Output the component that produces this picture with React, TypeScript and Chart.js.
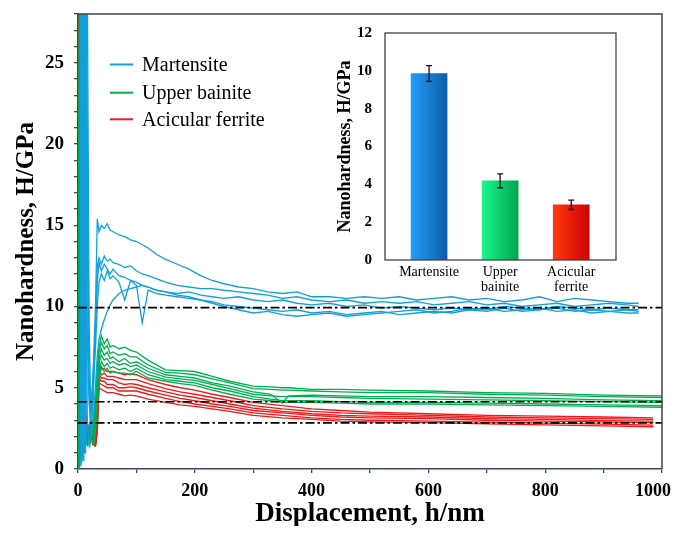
import React, { useEffect, useRef } from 'react';
import { Chart, registerables } from 'chart.js';
Chart.register(...registerables);

const FONT = "'Liberation Serif', 'Times New Roman', Times, serif";

// ---------- main chart data ----------
const xMart = [4, 5, 6, 7, 8, 9, 10, 11, 12, 13, 14, 16, 19, 22, 26, 30, 33, 36, 40, 45, 50, 55, 60, 70, 80, 90, 100, 110, 120, 135, 150, 170, 190, 210, 230, 250, 275, 300, 325, 350, 375, 400, 430, 460, 490, 520, 550, 580, 610, 640, 670, 700, 730, 760, 790, 820, 850, 880, 910, 940, 960];
const mart1 = [0.5, 30, 2, 30, 1, 30, 3, 30, 2, 30, 22, 8, 4, 3, 6, 10, 15.4, 14.6, 15.0, 14.8, 15.1, 14.7, 14.6, 14.4, 14.3, 14.1, 14.0, 13.8, 13.6, 13.2, 12.9, 12.6, 12.3, 11.9, 11.6, 11.4, 11.2, 11.1, 10.9, 10.8, 10.9, 10.6, 10.6, 10.5, 10.6, 10.5, 10.6, 10.4, 10.5, 10.6, 10.4, 10.5, 10.3, 10.4, 10.6, 10.3, 10.5, 10.4, 10.3, 10.2, 10.2];
const mart2 = [0.3, 1, 30, 2, 30, 1, 30, 4, 30, 30, 30, 14, 5, 2.5, 4, 9, 12.5, 13.0, 12.6, 13.1, 12.8, 12.9, 12.7, 12.6, 12.4, 12.5, 12.2, 12.0, 11.9, 11.7, 11.5, 11.3, 11.2, 11.1, 11.1, 11.0, 10.9, 10.8, 10.7, 10.5, 10.6, 10.4, 10.3, 10.4, 10.2, 10.3, 10.2, 10.3, 10.1, 10.2, 10.3, 10.1, 10.2, 10.0, 10.1, 10.2, 10.0, 10.1, 10.2, 10.1, 10.0];
const mart3 = [0.6, 30, 1.5, 30, 0.5, 30, 2, 30, 1, 30, 30, 30, 9, 3.5, 6, 8.5, 11.5, 12.7, 12.2, 12.6, 12.3, 12.0, 12.3, 11.9, 11.8, 11.6, 11.5, 11.3, 11.2, 11.0, 10.9, 10.8, 10.9, 10.7, 10.6, 10.5, 10.6, 10.4, 10.3, 10.4, 10.2, 10.1, 10.2, 10.0, 10.1, 9.9, 10.0, 9.9, 9.8, 9.9, 9.8, 9.9, 9.7, 9.8, 9.9, 9.7, 9.8, 9.6, 9.7, 9.6, 9.6];
const mart4 = [0.2, 2, 30, 1, 30, 3, 30, 1, 30, 2, 30, 20, 6, 2, 5, 7.5, 10, 11.5, 12.0, 11.6, 12.2, 11.7, 11.9, 11.5, 10.4, 11.6, 11.3, 9.0, 11.0, 10.8, 10.7, 10.6, 10.5, 10.4, 10.3, 10.1, 10.0, 9.9, 9.8, 9.7, 9.8, 9.6, 9.7, 9.5, 9.6, 9.7, 9.5, 9.6, 9.7, 9.6, 9.8, 9.7, 9.9, 9.7, 9.8, 9.9, 9.7, 9.8, 9.7, 9.8, 9.7];
const mart5 = [0.4, 30, 1, 30, 2, 30, 0.5, 30, 1.5, 30, 12, 3, 1.5, 2, 3, 5, 7, 8, 8.6, 9.2, 9.7, 10.1, 10.4, 10.8, 11.0, 11.1, 11.2, 11.3, 11.2, 11.0, 10.9, 10.7, 10.6, 10.4, 10.2, 10.0, 9.8, 9.6, 9.7, 9.5, 9.4, 9.5, 9.6, 9.4, 9.5, 9.6, 9.7, 9.8, 9.6, 9.7, 9.9, 9.8, 10.0, 9.9, 9.8, 10.0, 9.9, 9.8, 9.9, 9.8, 9.8];

const xBain = [1, 3, 5, 8, 12, 16, 20, 24, 28, 32, 36, 40, 45, 50, 55, 60, 70, 80, 90, 100, 120, 150, 175, 200, 230, 260, 300, 330, 350, 360, 400, 450, 500, 600, 700, 800, 900, 1000];
const bain1 = [0, 35, 35, 5, 3, 2.5, 2.2, 2.0, 3.0, 5.5, 7.5, 8.2, 7.7, 8.0, 7.5, 7.6, 7.4, 7.5, 7.3, 7.2, 6.7, 6.1, 6.05, 6.0, 5.7, 5.4, 5.1, 5.05, 5.0, 5.0, 4.9, 4.9, 4.85, 4.8, 4.7, 4.65, 4.55, 4.5];
const bain2 = [0, 35, 30, 4, 2.5, 2.0, 1.7, 2.2, 3.5, 6.0, 7.2, 7.8, 7.4, 7.6, 7.1, 7.2, 7.0, 7.1, 6.9, 6.9, 6.4, 5.95, 5.9, 5.8, 5.55, 5.3, 4.95, 4.9, 4.85, 4.85, 4.8, 4.75, 4.7, 4.7, 4.6, 4.55, 4.45, 4.4];
const bain3 = [0, 35, 20, 3.5, 2.0, 1.5, 2.5, 3.0, 2.5, 5.0, 6.8, 7.4, 7.0, 7.2, 6.8, 6.9, 6.6, 6.8, 6.5, 6.6, 6.2, 5.8, 5.7, 5.6, 5.3, 5.1, 4.75, 4.6, 4.05, 4.5, 4.55, 4.5, 4.45, 4.45, 4.4, 4.35, 4.25, 4.2];
const bain4 = [0, 35, 15, 3, 1.8, 2.2, 1.6, 2.8, 2.0, 4.5, 6.5, 7.0, 6.7, 6.8, 6.5, 6.6, 6.4, 6.5, 6.3, 6.4, 6.0, 5.65, 5.55, 5.45, 5.2, 4.95, 4.6, 4.5, 4.45, 4.45, 4.45, 4.4, 4.35, 4.3, 4.25, 4.2, 4.15, 4.1];
const bain5 = [0, 35, 12, 2.5, 1.5, 2.0, 2.8, 1.8, 1.5, 3.5, 6.0, 6.6, 6.3, 6.5, 6.2, 6.3, 6.1, 6.2, 6.0, 6.2, 5.8, 5.5, 5.4, 5.3, 5.0, 4.8, 4.45, 4.3, 4.2, 4.2, 4.2, 4.15, 4.1, 4.1, 4.05, 4.0, 3.95, 3.9];
const bain6 = [0, 35, 10, 2.0, 1.3, 1.8, 1.4, 2.3, 1.6, 3.0, 5.5, 6.3, 6.0, 6.2, 5.9, 6.0, 5.9, 5.9, 5.8, 6.0, 5.6, 5.4, 5.25, 5.15, 4.85, 4.6, 4.3, 4.2, 4.1, 4.1, 4.1, 4.05, 4.0, 4.0, 3.95, 3.9, 3.85, 3.8];

const xAcic = [1, 2, 4, 6, 10, 15, 20, 25, 30, 33, 36, 40, 45, 50, 60, 70, 80, 90, 100, 120, 150, 175, 200, 230, 260, 300, 350, 400, 450, 500, 600, 700, 800, 900, 985];
const acic1 = [0, 35, 35, 10, 4, 3, 2.2, 1.8, 1.6, 4.0, 6.4, 6.1, 6.2, 6.0, 6.0, 5.9, 5.8, 5.85, 5.8, 5.5, 5.2, 5.0, 4.85, 4.6, 4.4, 4.1, 3.9, 3.7, 3.6, 3.5, 3.4, 3.3, 3.25, 3.2, 3.15];
const acic2 = [0, 35, 30, 8, 3.5, 2.5, 2.0, 2.4, 1.8, 3.5, 6.1, 5.8, 5.9, 5.7, 5.7, 5.6, 5.5, 5.5, 5.5, 5.25, 4.95, 4.75, 4.6, 4.4, 4.2, 3.9, 3.7, 3.55, 3.45, 3.4, 3.3, 3.2, 3.15, 3.1, 3.05];
const acic3 = [0, 35, 25, 6, 3, 2.0, 2.6, 1.7, 1.5, 3.0, 5.8, 5.6, 5.6, 5.5, 5.5, 5.3, 5.2, 5.25, 5.2, 5.0, 4.75, 4.55, 4.4, 4.2, 4.0, 3.75, 3.55, 3.4, 3.3, 3.25, 3.2, 3.1, 3.05, 2.98, 2.95];
const acic4 = [0, 35, 20, 5, 2.5, 2.8, 1.9, 2.2, 1.6, 2.8, 5.6, 5.4, 5.4, 5.2, 5.2, 5.0, 5.0, 5.05, 5.0, 4.8, 4.55, 4.35, 4.2, 4.0, 3.85, 3.6, 3.45, 3.3, 3.2, 3.15, 3.1, 3.0, 2.95, 2.9, 2.85];
const acic5 = [0, 35, 18, 4.5, 2.2, 1.8, 2.4, 1.5, 1.4, 2.5, 5.3, 5.2, 5.1, 5.0, 5.0, 4.8, 4.8, 4.8, 4.8, 4.6, 4.35, 4.15, 4.0, 3.85, 3.7, 3.45, 3.3, 3.15, 3.05, 3.0, 2.95, 2.88, 2.82, 2.76, 2.7];
const acic6 = [0, 35, 15, 4, 2.0, 2.2, 1.7, 2.0, 1.5, 2.2, 5.0, 4.9, 4.8, 4.7, 4.7, 4.6, 4.5, 4.55, 4.5, 4.3, 4.1, 3.95, 3.85, 3.7, 3.55, 3.3, 3.15, 3.05, 2.95, 2.9, 2.85, 2.78, 2.72, 2.66, 2.6];

const refX = [0, 1000];
const refLevels = [9.93, 4.14, 2.84];

const legendNames = ['Martensite', 'Upper bainite', 'Acicular ferrite'];
const seriesColors = ['#12A0DC', '#00B050', '#F01818'];

// ---------- inset data ----------
const barLabels = [['Martensite'], ['Upper', 'bainite'], ['Acicular', 'ferrite']];
const barValues = [9.86, 4.18, 2.92];
const barErrors = [0.42, 0.37, 0.25];
const barLight = ['#229FF8', '#1AF58C', '#FF3A10'];
const barDark = ['#0C5DA5', '#00A650', '#CC0000'];

const AXIS = '#3b4660';

const line = (xs: number[], ys: number[], color: string, width = 1.3, dash: number[] = []) => ({
  data: xs.map((x, i) => ({ x, y: ys[i] })),
  borderColor: color,
  backgroundColor: color,
  borderWidth: width,
  borderDash: dash,
  pointRadius: 0,
  fill: false,
  tension: 0,
});

const mainBox = {
  id: 'mainBox',
  afterDraw(chart: any) {
    const { ctx, chartArea } = chart;
    const { left, top, right, bottom } = chartArea;
    ctx.save();
    ctx.strokeStyle = '#444';
    ctx.lineWidth = 1.5;
    ctx.beginPath();
    ctx.moveTo(left, top);
    ctx.lineTo(right, top);
    ctx.lineTo(right, bottom);
    ctx.stroke();
    // legend
    const lx = left + 32;
    const ys = [top + 50.5, top + 78.7, top + 105.3];
    ctx.font = `20px ${FONT}`;
    ctx.textBaseline = 'middle';
    ctx.textAlign = 'left';
    legendNames.forEach((name, i) => {
      ctx.strokeStyle = seriesColors[i];
      ctx.lineWidth = 2;
      ctx.beginPath();
      ctx.moveTo(lx, ys[i]);
      ctx.lineTo(lx + 23, ys[i]);
      ctx.stroke();
      ctx.fillStyle = '#000';
      ctx.fillText(name, lx + 32, ys[i] + 1);
    });
    ctx.restore();
  },
};

const insetExtras = {
  id: 'insetExtras',
  afterDatasetsDraw(chart: any) {
    const { ctx, chartArea, scales } = chart;
    const xs = scales.x;
    const ys = scales.y;
    ctx.save();
    ctx.strokeStyle = '#111';
    ctx.lineWidth = 1.3;
    barValues.forEach((v, i) => {
      const cx = xs.getPixelForValue(i);
      const t = ys.getPixelForValue(v + barErrors[i]);
      const b = ys.getPixelForValue(v - barErrors[i]);
      ctx.beginPath();
      ctx.moveTo(cx, t);
      ctx.lineTo(cx, b);
      ctx.moveTo(cx - 3, t);
      ctx.lineTo(cx + 3, t);
      ctx.moveTo(cx - 3, b);
      ctx.lineTo(cx + 3, b);
      ctx.stroke();
    });
    ctx.strokeStyle = '#444';
    ctx.lineWidth = 1.3;
    ctx.strokeRect(chartArea.left, chartArea.top, chartArea.right - chartArea.left, chartArea.bottom - chartArea.top);
    ctx.restore();
  },
};

export default function App() {
  const mainRef = useRef<HTMLCanvasElement>(null);
  const insetRef = useRef<HTMLCanvasElement>(null);

  useEffect(() => {
    const datasets: any[] = [
      ...refLevels.map((lv) => line(refX, [lv, lv], '#000', 1.7, [9, 3, 2.5, 3])),
      line(xMart, mart1, seriesColors[0]),
      line(xMart, mart2, seriesColors[0]),
      line(xMart, mart3, seriesColors[0]),
      line(xMart, mart4, seriesColors[0]),
      line(xMart, mart5, seriesColors[0]),
      line(xBain, bain1, seriesColors[1]),
      line(xBain, bain2, seriesColors[1]),
      line(xBain, bain3, seriesColors[1]),
      line(xBain, bain4, seriesColors[1]),
      line(xBain, bain5, seriesColors[1]),
      line(xBain, bain6, seriesColors[1]),
      line(xAcic, acic1, seriesColors[2]),
      line(xAcic, acic2, seriesColors[2]),
      line(xAcic, acic3, seriesColors[2]),
      line(xAcic, acic4, seriesColors[2]),
      line(xAcic, acic5, seriesColors[2]),
      line(xAcic, acic6, seriesColors[2]),
    ];

    const main = new Chart(mainRef.current as HTMLCanvasElement, {
      type: 'line',
      data: { datasets },
      options: {
        responsive: false,
        animation: false,
        events: [],
        layout: { padding: { left: 0, top: 6, right: 11, bottom: 0 } },
        plugins: { legend: { display: false }, tooltip: { enabled: false } },
        scales: {
          x: {
            type: 'linear',
            min: 0,
            max: 1000,
            ticks: {
              stepSize: 100,
              autoSkip: false,
              maxRotation: 0,
              padding: 8,
              color: '#000',
              font: { family: FONT, size: 18, weight: 'bold' },
              callback: (v: any) => {
                const n = Number(v);
                if (n % 200 !== 0) return '';
                return n === 1000 ? '1000\u2002\u2002' : String(n);
              },
            },
            grid: { display: true, drawOnChartArea: false, drawTicks: true, tickLength: 4, color: AXIS, lineWidth: 1.3 },
            border: { display: true, color: AXIS, width: 1.5 },
            title: {
              display: true,
              text: 'Displacement, h/nm',
              color: '#000',
              font: { family: FONT, size: 27, weight: 'bold', lineHeight: 0.9 },
              padding: { top: 0, bottom: 0 },
            },
            afterFit: (s: any) => {
              s.height = 57;
              s.paddingLeft = 0;
              s.paddingRight = 0;
            },
          },
          y: {
            type: 'linear',
            min: 0,
            max: 28,
            ticks: {
              stepSize: 1,
              autoSkip: false,
              padding: 10,
              color: '#000',
              font: { family: FONT, size: 19, weight: 'bold' },
              callback: (v: any) => (Number(v) % 5 === 0 ? String(v) : ''),
            },
            grid: { display: true, drawOnChartArea: false, drawTicks: true, tickLength: 4, color: AXIS, lineWidth: 1.3 },
            border: { display: true, color: AXIS, width: 1.5 },
            title: {
              display: true,
              text: 'Nanohardness, H/GPa',
              color: '#000',
              font: { family: FONT, size: 25, weight: 'bold', lineHeight: 1 },
              padding: { top: 6, bottom: 0 },
            },
            afterFit: (s: any) => {
              s.width = 70;
              s.paddingTop = 0;
              s.paddingBottom = 0;
            },
          },
        },
      } as any,
      plugins: [mainBox],
    });

    const inset = new Chart(insetRef.current as HTMLCanvasElement, {
      type: 'bar',
      data: {
        datasets: [
          {
            data: barValues.map((v, i) => ({ x: i, y: v })),
            barThickness: 36,
            borderWidth: 0,
            backgroundColor: (c: any) => {
              const chart = c.chart;
              const i = c.dataIndex ?? 0;
              const xs = chart.scales && chart.scales.x;
              if (!chart.chartArea || !xs) return barDark[i];
              const cx = xs.getPixelForValue(i);
              const g = chart.ctx.createLinearGradient(cx - 18, 0, cx + 18, 0);
              g.addColorStop(0, barLight[i]);
              g.addColorStop(1, barDark[i]);
              return g;
            },
          } as any,
        ],
      },
      options: {
        responsive: false,
        animation: false,
        events: [],
        layout: { padding: { left: 0, top: 13, right: 9, bottom: 0 } },
        plugins: { legend: { display: false }, tooltip: { enabled: false } },
        scales: {
          x: {
            type: 'linear',
            min: -0.62,
            max: 2.63,
            offset: false,
            grid: { display: false, drawTicks: false, offset: false },
            border: { display: false },
            afterBuildTicks: (s: any) => {
              s.ticks = barLabels.map((_, i) => ({ value: i }));
            },
            ticks: {
              autoSkip: false,
              maxRotation: 0,
              padding: 4,
              color: '#000',
              font: { family: FONT, size: 14, lineHeight: 1.12 },
              callback: (v: any) => barLabels[Number(v)] as any,
            },
            afterFit: (s: any) => {
              s.height = 50;
              s.paddingLeft = 0;
              s.paddingRight = 0;
            },
          },
          y: {
            min: 0,
            max: 12,
            ticks: {
              stepSize: 2,
              padding: 13,
              color: '#000',
              font: { family: FONT, size: 15, weight: 'bold' },
            },
            grid: { display: false, drawTicks: false },
            border: { display: false },
            title: {
              display: true,
              text: 'Nanohardness, H/GPa',
              color: '#000',
              font: { family: FONT, size: 18, weight: 'bold', lineHeight: 1 },
              padding: { top: 11, bottom: 0 },
            },
            afterFit: (s: any) => {
              s.width = 60;
              s.paddingTop = 0;
              s.paddingBottom = 0;
            },
          },
        },
      } as any,
      plugins: [insetExtras],
    });

    return () => {
      main.destroy();
      inset.destroy();
    };
  }, []);

  return (
    <div style={{ position: 'relative', width: 665, height: 518 }}>
      <canvas ref={mainRef} width={665} height={518} style={{ position: 'absolute', left: 0, top: 0, display: 'block' }} />
      <canvas ref={insetRef} width={300} height={290} style={{ position: 'absolute', left: 317, top: 12, display: 'block' }} />
    </div>
  );
}
